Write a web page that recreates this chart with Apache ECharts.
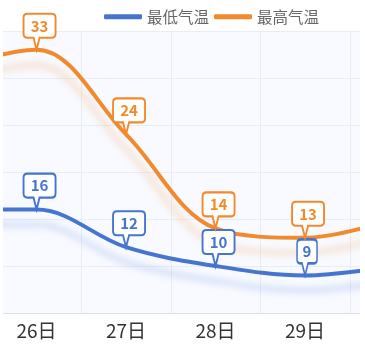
<!DOCTYPE html>
<html>
<head>
<meta charset="utf-8">
<script src="https://cdn.jsdelivr.net/npm/echarts@6/dist/echarts.min.js"></script>
<style>
html, body { margin: 0; padding: 0; background: #fff; }
/* visible window: page x 3..360 */
#wrap { position: absolute; left: 3px; top: 0; width: 357px; height: 352px; overflow: hidden; }
/* chart is wider than the window, 25日 and 30日 fall mostly outside */
#main { position: absolute; left: -107px; top: 0; width: 547px; height: 352px; }
</style>
</head>
<body>
<div id="wrap"><div id="main"></div></div>
<script>
var days = ['25日', '26日', '27日', '28日', '29日', '30日'];
var lowTemps = [16, 16, 12, 10, 9, 10];
var highTemps = [31, 33, 24, 14, 13, 15];
var names = ['最低气温', '最高气温'];
var colors = ['#4575cf', '#f28a2d'];
var shadows = ['rgba(69,117,207,0.28)', 'rgba(242,138,45,0.3)'];

var font = '"Noto Sans CJK SC", "Noto Sans", sans-serif';

// speech bubble with the tail tip at (tip, 36)
function bubblePath(w) {
    var tip = Math.round(w * 0.4);
    return 'path://M4,0 H' + (w - 4) + ' Q' + w + ',0 ' + w + ',4 V20 Q' + w + ',24 ' + (w - 4) + ',24' +
        ' H' + (tip + 3) + ' L' + tip + ',36 L' + (tip - 3) + ',24 H4 Q0,24 0,20 V4 Q0,0 4,0 Z';
}

function bubbles(arr) {
    return arr.map(function (v, i) {
        var w = String(v).length > 1 ? 32 : 20;
        return {
            coord: [days[i], v],
            value: v,
            symbol: bubblePath(w),
            symbolSize: [w, 36],
            symbolOffset: [w / 2 - Math.round(w * 0.4), -18]
        };
    });
}

function makeSeries(idx, arr) {
    return {
        name: names[idx],
        type: 'line',
        smooth: 0.35,
        showSymbol: false,
        data: arr,
        itemStyle: { color: colors[idx] },
        lineStyle: {
            width: 4,
            color: colors[idx],
            cap: 'round',
            shadowColor: shadows[idx],
            shadowBlur: 7,
            shadowOffsetY: 15
        },
        markPoint: {
            itemStyle: { color: '#fff', borderColor: colors[idx], borderWidth: 2 },
            label: {
                show: true,
                position: 'inside',
                offset: [0, -6],
                color: colors[idx],
                fontSize: 15,
                fontWeight: 'bold',
                fontFamily: font,
                formatter: '{c}'
            },
            data: bubbles(arr)
        }
    };
}

var chart = echarts.init(document.getElementById('main'));
var option = {
    animation: false,
    legend: {
        data: names,
        left: 203,
        top: 4,
        icon: 'roundRect',
        itemWidth: 38,
        itemHeight: 5,
        itemGap: 5,
        textStyle: { fontSize: 15.5, color: '#666', fontFamily: font }
    },
    grid: {
        left: 6.3,
        right: 3.7,
        top: 31,
        bottom: 39,
        outerBoundsMode: 'none',
        show: true,
        backgroundColor: '#f8faff',
        borderWidth: 0
    },
    xAxis: {
        type: 'category',
        data: days,
        boundaryGap: true,
        axisLine: { lineStyle: { color: '#dcdfe6', width: 1 } },
        axisTick: { show: false },
        axisLabel: { fontSize: 19, color: '#333', margin: 8, fontFamily: font },
        splitLine: { show: true, lineStyle: { color: '#e8edf5' } }
    },
    yAxis: {
        type: 'value',
        min: 5,
        max: 35,
        interval: 5,
        axisLine: { show: false },
        axisTick: { show: false },
        axisLabel: { show: false },
        splitLine: { lineStyle: { color: '#e8edf5' } }
    },
    series: [makeSeries(0, lowTemps), makeSeries(1, highTemps)]
};
chart.setOption(option);
</script>
</body>
</html>
